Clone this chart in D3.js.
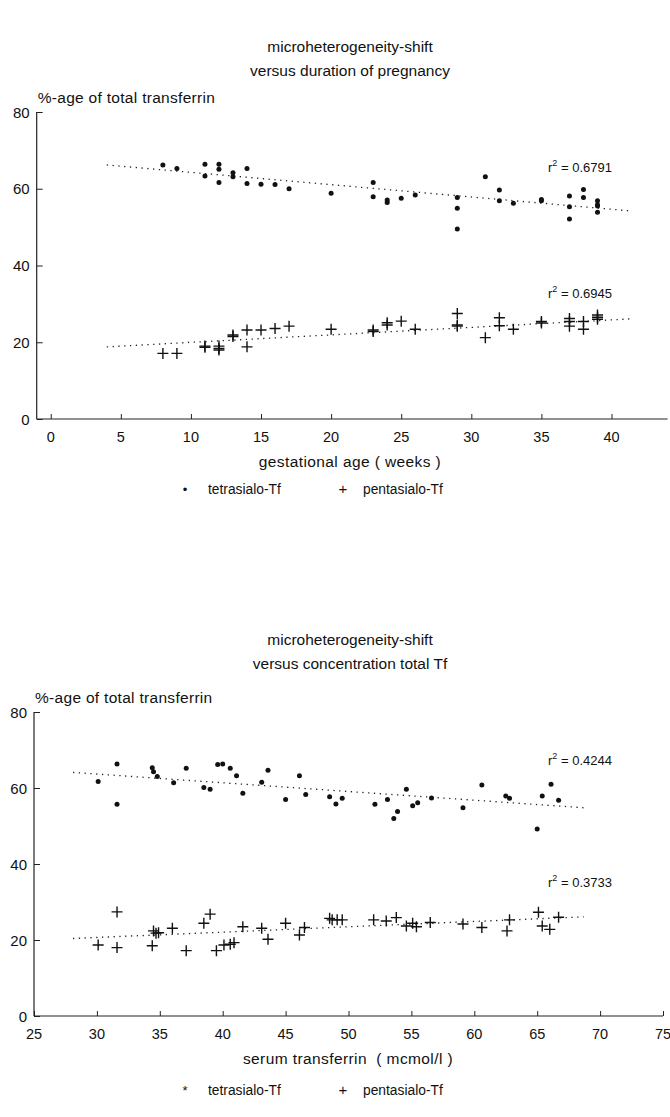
<!DOCTYPE html>
<html><head><meta charset="utf-8">
<script src="https://cdn.jsdelivr.net/npm/d3@7"></script>
<style>body{margin:0;background:#fff}svg{display:block}text{font-family:"Liberation Sans",Arial,sans-serif;fill:#111}</style>
</head><body>
<script>
// ---------- data ----------
const gestTicks = [0,5,10,15,20,25,30,35,40];
const serumTicks = [25,30,35,40,45,50,55,60,65,70,75];
const yTicks = [0,20,40,60,80];

const gestTetra = [[8,66.2],[9,65.3],[11,66.4],[11,63.3],[12,66.4],[12,65.1],[12,61.6],[13,64.2],[13,63.1],[14,65.3],[14,61.4],[15,61.2],[16,61.1],[17,60.0],[20,58.8],[23,61.6],[23,57.9],[24,56.4],[24,57.1],[25,57.5],[26,58.4],[29,57.7],[29,54.9],[29,49.5],[31,63.1],[32,59.7],[32,56.9],[33,56.2],[35,57.2],[35,56.9],[37,58.1],[37,55.3],[37,52.1],[38,59.8],[38,57.7],[39,56.9],[39,55.5],[39,55.8],[39,53.9]];
const gestPenta = [[8,17.1],[9,17.1],[11,19.0],[11,18.7],[12,19.0],[12,18.4],[12,18.0],[13,21.9],[13,21.5],[14,18.8],[14,23.2],[15,23.2],[16,23.6],[17,24.2],[20,23.4],[23,22.8],[23,23.2],[24,25.1],[24,24.5],[25,25.5],[26,23.4],[29,27.5],[29,24.2],[29,24.5],[31,21.2],[32,26.4],[32,24.3],[33,23.4],[35,25.4],[35,25.0],[37,25.4],[37,24.2],[37,26.2],[38,25.4],[38,23.4],[39,27.1],[39,26.0],[39,26.5]];
const serumTetra = [[30.1,61.7],[31.6,66.3],[31.6,55.7],[34.4,65.3],[34.5,64.3],[34.8,63.0],[36.1,61.4],[37.1,65.2],[38.5,60.1],[39.0,59.7],[39.6,66.2],[40.0,66.3],[40.6,65.2],[41.1,63.2],[41.6,58.6],[43.1,61.5],[43.6,64.7],[45.0,57.0],[46.1,63.2],[46.6,58.3],[48.5,57.7],[49.0,55.8],[49.5,57.3],[52.1,55.7],[53.1,57.0],[53.6,52.0],[53.9,53.8],[54.6,59.7],[55.1,55.3],[55.5,56.1],[56.6,57.4],[59.1,54.8],[60.6,60.8],[62.5,57.9],[62.8,57.3],[65.0,49.2],[65.4,57.9],[66.1,61.0],[66.7,56.8]];
const serumPenta = [[30.1,18.7],[31.6,27.4],[31.6,18.0],[34.4,18.5],[34.5,22.4],[34.7,21.8],[34.9,21.9],[36.0,23.1],[37.1,17.2],[38.5,24.4],[39.0,26.8],[39.5,17.2],[40.1,18.7],[40.6,18.9],[40.9,19.3],[41.6,23.5],[43.1,23.1],[43.6,20.2],[45.0,24.4],[46.1,21.3],[46.5,23.3],[48.5,25.7],[48.7,25.3],[49.1,25.3],[49.5,25.3],[52.0,25.3],[53.0,25.0],[53.8,25.9],[54.6,23.7],[55.1,24.4],[55.4,23.5],[56.5,24.6],[59.1,24.2],[60.6,23.3],[62.6,22.4],[62.8,25.3],[65.1,27.3],[65.4,23.7],[66.0,22.8],[66.7,26.0]];

const gestTetraFit = [[4,66.2],[41.4,54.2]];
const gestPentaFit = [[4,18.8],[41.4,26.1]];
const serumTetraFit = [[28.1,64.1],[68.7,54.8]];
const serumPentaFit = [[28.1,20.4],[68.7,26.1]];

const r2Gest = ["0.6791","0.6945"];
const r2Serum = ["0.4244","0.3733"];

// ---------- drawing ----------
const W = 670, H = 1117;
const svg = d3.select("body").append("svg").attr("width", W).attr("height", H);

function panel(cfg){
  const g = svg.append("g");
  const x = d3.scaleLinear().domain(cfg.xDomain).range(cfg.xRange);
  const y = d3.scaleLinear().domain([0,80]).range(cfg.yRange);
  const x0 = cfg.xRange[0];
  // titles
  g.append("text").attr("x",350).attr("y",cfg.titleY).attr("text-anchor","middle").attr("font-size",15.5).text("microheterogeneity-shift");
  g.append("text").attr("x",350).attr("y",cfg.titleY+24).attr("text-anchor","middle").attr("font-size",15.5).text(cfg.title2);
  g.append("text").attr("x",x0+1).attr("y",y(80)-9).attr("font-size",15.5).attr("letter-spacing",0.3).text("%-age of total transferrin");
  // y axis
  const ya = d3.axisRight(y).tickValues(yTicks).tickSize(6).tickFormat("");
  const yg = g.append("g").attr("transform",`translate(${x0},0)`).call(ya);
  yg.select(".domain").attr("d",`M0,${y(0)}V${y(80)}`).attr("stroke","#222").attr("stroke-width",1.2);
  yg.selectAll("line").attr("stroke","#222");
  g.selectAll(".ylab").data(yTicks).join("text").attr("x",x0-7).attr("y",d=>y(d)+5.5)
    .attr("text-anchor","end").attr("font-size",15).text(d=>d);
  // x axis
  const xa = d3.axisTop(x).tickValues(cfg.ticks).tickSize(5).tickFormat("");
  const xg = g.append("g").attr("transform",`translate(0,${y(0)})`).call(xa);
  xg.select(".domain").attr("d",`M${cfg.xRange[0]},0H${cfg.xRange[1]}`).attr("stroke","#222").attr("stroke-width",1.2);
  xg.selectAll("line").attr("stroke","#222");
  g.selectAll(".xlab").data(cfg.ticks).join("text").attr("x",d=>x(d)).attr("y",y(0)+23)
    .attr("text-anchor","middle").attr("font-size",14.5).text(d=>d);
  g.append("text").attr("x",cfg.xLabelX).attr("y",y(0)+48).attr("text-anchor","middle").attr("font-size",15.5)
    .attr("letter-spacing",0.4).style("white-space","pre").text(cfg.xLabel);
  // fits
  const line = d3.line().x(d=>x(d[0])).y(d=>y(d[1]));
  [cfg.fitA, cfg.fitB].forEach(f=>{
    g.append("path").attr("d",line(f)).attr("fill","none").attr("stroke","#222")
     .attr("stroke-width",1.3).attr("stroke-dasharray","1.3,4.5");
  });
  // tetra dots
  g.selectAll(".dot").data(cfg.tetra).join("circle").attr("cx",d=>x(d[0])).attr("cy",d=>y(d[1])).attr("r",2.5).attr("fill","#111");
  // penta plus
  g.selectAll(".plus").data(cfg.penta).join("path")
    .attr("d",d=>{const px=x(d[0]),py=y(d[1]);return `M${px-5.5},${py}H${px+5.5}M${px},${py-5.5}V${py+5.5}`;})
    .attr("stroke","#111").attr("stroke-width",1.4);
  // r2 labels
  cfg.r2.forEach((v,i)=>{
    const t = g.append("text").attr("x",548).attr("y",y(cfg.r2Y[i])).attr("font-size",13);
    t.append("tspan").text("r");
    t.append("tspan").attr("dy",-6).attr("font-size",9).text("2");
    t.append("tspan").attr("dy",6).text(" = "+v);
  });
  // legend
  const ly = y(0)+cfg.legendOff;
  g.append("text").attr("x",185).attr("y",ly).attr("text-anchor","middle").attr("font-size",13).text(cfg.legendSym);
  g.append("text").attr("x",208).attr("y",ly).attr("font-size",13.8).text("tetrasialo-Tf");
  g.append("text").attr("x",343).attr("y",ly).attr("text-anchor","middle").attr("font-size",15).text("+");
  g.append("text").attr("x",363).attr("y",ly).attr("font-size",13.8).text("pentasialo-Tf");
}

panel({xDomain:[-1,44], xRange:[36.7,667.6], yRange:[419,112], ticks:gestTicks,
  titleY:52, title2:"versus duration of pregnancy", xLabel:"gestational age ( weeks )", xLabelX:350,
  tetra:gestTetra, penta:gestPenta, fitA:gestTetraFit, fitB:gestPentaFit,
  r2:r2Gest, r2Y:[64.4,31.5], legendSym:"•", legendOff:75});
panel({xDomain:[25,75], xRange:[34,663], yRange:[1016,712], ticks:serumTicks,
  titleY:645, title2:"versus concentration total Tf", xLabel:"serum transferrin  ( mcmol/l )", xLabelX:348,
  tetra:serumTetra, penta:serumPenta, fitA:serumTetraFit, fitB:serumPentaFit,
  r2:r2Serum, r2Y:[66,34], legendSym:"*", legendOff:79});
</script>
</body></html>
